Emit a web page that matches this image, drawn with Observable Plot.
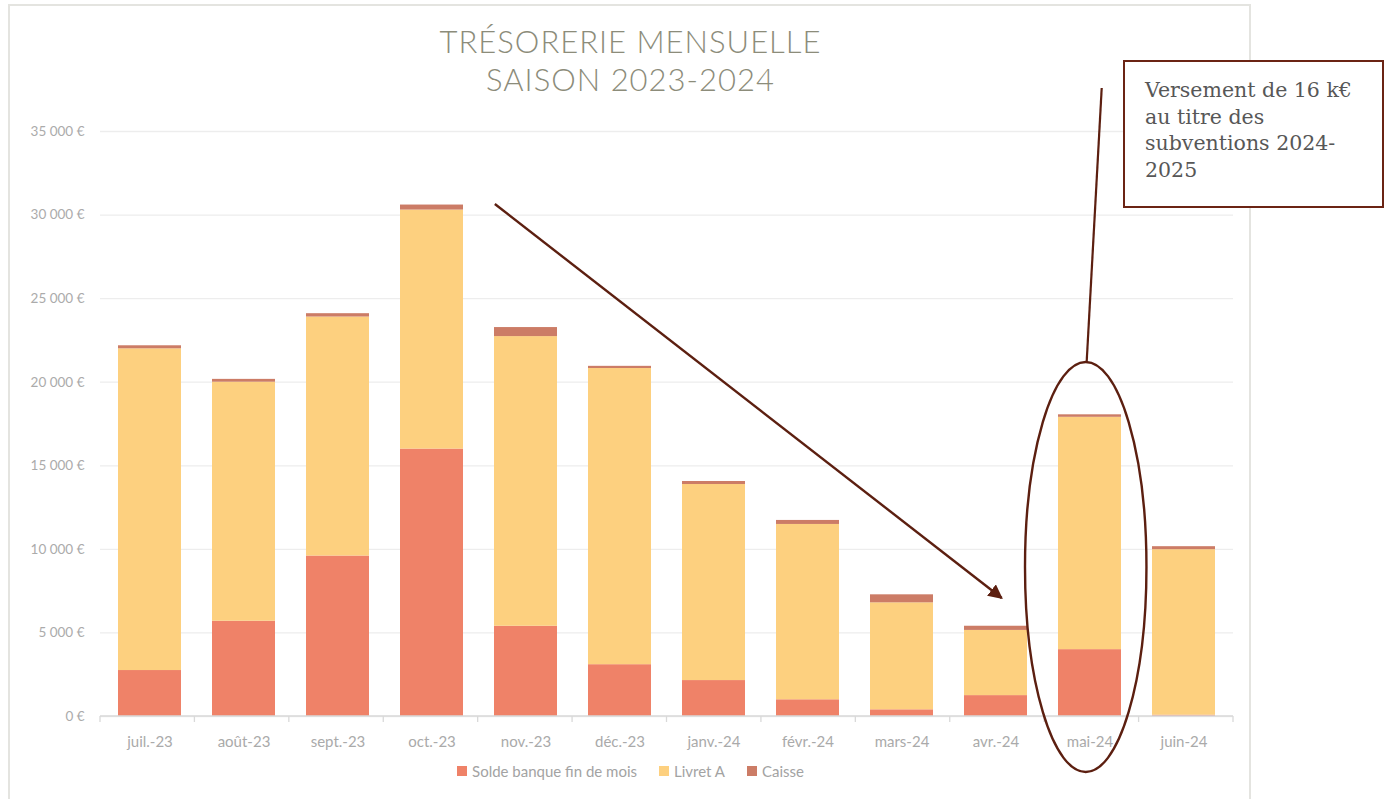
<!DOCTYPE html>
<html>
<head>
<meta charset="utf-8">
<script src="https://cdn.jsdelivr.net/npm/d3@7"></script>
<script src="https://cdn.jsdelivr.net/npm/@observablehq/plot@0.6"></script>
<style>
  html, body { margin: 0; padding: 0; background: #fff; }
  #wrap { position: relative; width: 1390px; height: 799px; overflow: hidden; background: #fff; font-family: Lato, "Open Sans", sans-serif; }
  #border { position: absolute; left: 8px; top: 4px; width: 1243px; height: 820px; border: 2px solid #e4e4e0; box-sizing: border-box; }
  #title { position: absolute; left: 8px; width: 1245px; top: 22px; text-align: center; color: #8c8c7a; font-family: Lato, "Open Sans", sans-serif; font-weight: 300; font-size: 31px; line-height: 38px; letter-spacing: 1px; }
  #chart { position: absolute; left: 0; top: 0; }
  #legend { position: absolute; left: 8px; width: 1245px; top: 762px; display: flex; justify-content: center; gap: 22px; font-size: 15px; color: #a3a3a3; font-family: Lato, "Open Sans", sans-serif; }
  #legend span.item { display: flex; align-items: center; gap: 5px; }
  #legend span.sw { display: inline-block; width: 10px; height: 10px; }
  #note { position: absolute; left: 1123px; top: 60px; width: 261px; height: 148px; border: 2px solid #6b2414; box-sizing: border-box; padding: 15px 2px 0 20px; font-family: "DejaVu Serif", "Liberation Serif", serif; font-size: 20.5px; line-height: 26.5px; color: #575757; background: #fff; }
</style>
</head>
<body>
<div id="wrap">
  <div id="border"></div>
  <div id="chart"></div>
  <div id="title"></div>
  <div id="legend"></div>
  <div id="note"></div>
</div>
<script>
// ---- Data ----
const months = ["juil.-23","août-23","sept.-23","oct.-23","nov.-23","déc.-23","janv.-24","févr.-24","mars-24","avr.-24","mai-24","juin-24"];
const series = ["Solde banque fin de mois", "Livret A", "Caisse"];
const solde  = [2750, 5700, 9600, 16000, 5400, 3100, 2150, 1000, 400, 1250, 4000, 80];
const livret = [19250, 14300, 14300, 14300, 17330, 17720, 11730, 10490, 6400, 3900, 13900, 9900];
const caisse = [180, 170, 200, 300, 540, 130, 180, 240, 480, 250, 150, 180];
const colors = ["#ef8268", "#fdd07f", "#cc7c66"];
const yTicks = [0, 5000, 10000, 15000, 20000, 25000, 30000, 35000];
const titleLines = ["TRÉSORERIE MENSUELLE", "SAISON 2023-2024"];
const noteLines = ["Versement de 16 k€", "au titre des", "subventions 2024-", "2025"];
// annotation anchors (data terms)
const arrowFrom = {month: "oct.-23", value: 30630};
const arrowTo = {month: "avr.-24", value: 7060};
const ellipseMonth = "mai-24";
const ellipseTop = 21180, ellipseBottom = -3350;
const connectorTopValue = 37570;

// ---- Build table ----
const rows = [];
months.forEach((m, i) => {
  rows.push({month: m, series: series[0], value: solde[i]});
  rows.push({month: m, series: series[1], value: livret[i]});
  rows.push({month: m, series: series[2], value: caisse[i]});
});

const fmt = d => d3.format(",")(d).replace(/,/g, " ") + " €";

const padInner = 0.33, padOuter = 0.165;
const brown = "#5c1f10";

function annotations(index, scales, values, dims) {
  const xs = scales.x, ys = scales.y;
  const step = xs(months[1]) - xs(months[0]);
  const startOff = xs(months[0]) - dims.marginLeft;
  const isStart = Math.abs(startOff - step * padOuter) < 3;
  const center = m => isStart ? xs(m) + step * (1 - padInner) / 2 : xs(m);
  const g = d3.create("svg:g");
  const defs = g.append("defs");
  defs.append("marker").attr("id", "ah").attr("viewBox", "0 0 10 10").attr("refX", 9).attr("refY", 5)
    .attr("markerWidth", 6).attr("markerHeight", 6).attr("markerUnits", "strokeWidth").attr("orient", "auto")
    .append("path").attr("d", "M0,0 L10,5 L0,10 z").attr("fill", brown);
  // arrow
  g.append("line")
    .attr("x1", center(arrowFrom.month) + 0.674 * step).attr("y1", ys(arrowFrom.value))
    .attr("x2", center(arrowTo.month) + 0.066 * step).attr("y2", ys(arrowTo.value))
    .attr("stroke", brown).attr("stroke-width", 2.4).attr("marker-end", "url(#ah)");
  // ellipse
  const cx = center(ellipseMonth) - 0.04 * step;
  const yTop = ys(ellipseTop), yBot = ys(ellipseBottom);
  g.append("ellipse").attr("cx", cx).attr("cy", (yTop + yBot) / 2)
    .attr("rx", 0.646 * step).attr("ry", (yBot - yTop) / 2)
    .attr("fill", "none").attr("stroke", brown).attr("stroke-width", 2.4);
  // connector
  g.append("line").attr("x1", cx + 0.17 * step).attr("y1", ys(connectorTopValue))
    .attr("x2", cx + 0.01 * step).attr("y2", yTop)
    .attr("stroke", brown).attr("stroke-width", 2.2);
  return g.node();
}

function xAxisLine(index, scales, values, dims) {
  const ys = scales.y;
  const x0 = dims.marginLeft, x1 = dims.width - dims.marginRight;
  const y0 = ys(0);
  const g = d3.create("svg:g").attr("stroke", "#d9d9d9").attr("stroke-width", 1.3);
  g.append("line").attr("x1", x0).attr("x2", x1).attr("y1", y0).attr("y2", y0);
  for (let i = 0; i <= months.length; i++) {
    const x = x0 + i * (x1 - x0) / months.length;
    g.append("line").attr("x1", x).attr("x2", x).attr("y1", y0).attr("y2", y0 + 6);
  }
  return g.node();
}

const chart = Plot.plot({
  width: 1390,
  height: 799,
  marginTop: 131,
  marginBottom: 83,
  marginLeft: 100,
  marginRight: 157,
  style: {color: "#a6a6a6", fontFamily: "Lato, 'Open Sans', sans-serif", fontSize: "14px", background: "transparent"},
  x: {domain: months, paddingInner: padInner, paddingOuter: padOuter, label: null},
  y: {domain: [0, 35000], label: null},
  color: {domain: series, range: colors},
  marks: [
    Plot.gridY(yTicks, {stroke: "#ededed", strokeOpacity: 1, strokeWidth: 1.3}),
    Plot.barY(rows, Plot.stackY({x: "month", y: "value", fill: "series", order: series, inset: 0})),
    xAxisLine,
    Plot.axisY({ticks: yTicks, tickFormat: fmt, tickSize: 0, tickPadding: 16, fontSize: 13.5, fill: "#ababab"}),
    Plot.axisX({tickSize: 0, tickPadding: 20, fontSize: 15, fill: "#aaaaaa"}),
    annotations
  ]
});
document.getElementById("chart").appendChild(chart);

// title
document.getElementById("title").innerHTML = titleLines.join("<br>");
// legend
const leg = document.getElementById("legend");
series.forEach((s, i) => {
  const it = document.createElement("span");
  it.className = "item";
  const sw = document.createElement("span");
  sw.className = "sw";
  sw.style.background = colors[i];
  const t = document.createElement("span");
  t.textContent = s;
  it.appendChild(sw); it.appendChild(t);
  leg.appendChild(it);
});
// note
const note = document.getElementById("note");
noteLines.forEach((l, i) => {
  if (i) note.appendChild(document.createElement("br"));
  note.appendChild(document.createTextNode(l));
});
note.style.whiteSpace = "nowrap";
</script>
</body>
</html>
